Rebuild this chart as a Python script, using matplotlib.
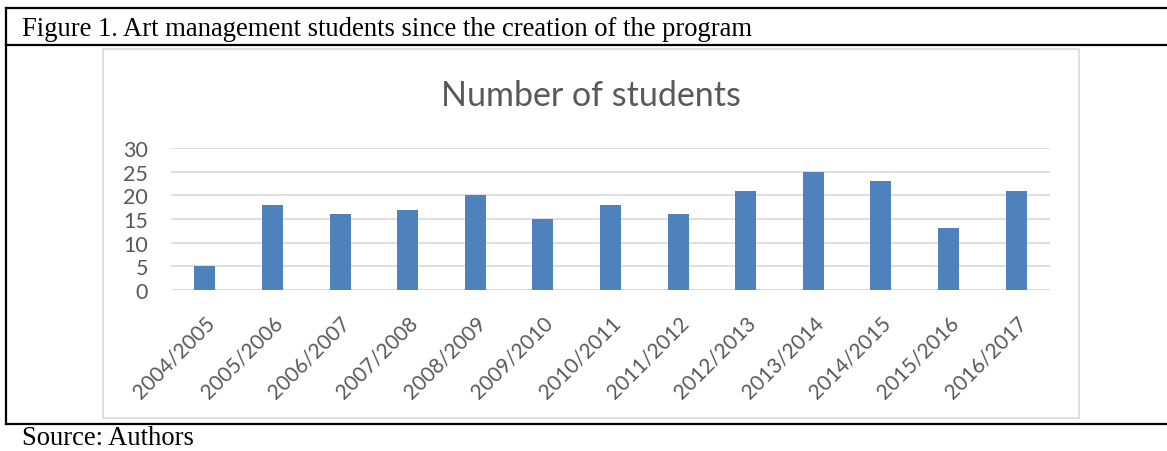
import matplotlib
matplotlib.use("Agg")
import matplotlib.pyplot as plt
from matplotlib.lines import Line2D
from matplotlib.patches import Rectangle

years = ["2004/2005", "2005/2006", "2006/2007", "2007/2008", "2008/2009", "2009/2010",
         "2010/2011", "2011/2012", "2012/2013", "2013/2014", "2014/2015", "2015/2016", "2016/2017"]
students = [5, 18, 16, 17, 20, 15, 18, 16, 21, 25, 23, 13, 21]
yticks = [0, 5, 10, 15, 20, 25, 30]

W, H = 1167, 452
fig = plt.figure(figsize=(W / 100, H / 100), dpi=100)

def fx(x): return x / W
def fy(y): return 1 - y / H

# outer table lines
lw_table = 1.6
for (x0, y0, x1, y1) in [(6, 9, W, 9), (6, 46, W, 46), (6, 425, W, 425), (6, 9, 6, 425)]:
    fig.add_artist(Line2D([fx(x0), fx(x1)], [fy(y0), fy(y1)], color="black", lw=lw_table,
                          transform=fig.transFigure))

fig.text(fx(22), fy(29), "Figure 1. Art management students since the creation of the program",
         family="Liberation Serif", fontsize=19.2, va="center", ha="left", color="black")
fig.text(fx(22), fy(451), "Source: Authors", family="Liberation Serif", fontsize=19.2,
         va="bottom", ha="left", color="black")

# chart area border
fig.add_artist(Rectangle((fx(103), fy(419)), fx(1079) - fx(103), fy(50) - fy(419),
                         transform=fig.transFigure, fill=False, edgecolor="#D9D9D9", lw=1.2))

fig.text(fx(591), fy(96), "Number of students", family="Lato", fontsize=24.5,
         ha="center", va="center", color="#595959")

ax = fig.add_axes([fx(171), fy(291), fx(1050) - fx(171), fy(149) - fy(291)])
x = list(range(len(years)))
ax.bar(x, students, width=0.31, color="#4F81BD", zorder=3)
ax.set_xlim(-0.5, len(years) - 0.5)
ax.set_ylim(0, 30)
ax.set_yticks(yticks)
ax.set_yticklabels([str(v) for v in yticks], family="Lato", fontsize=15.5, color="#595959")
ax.set_xticks(x)
ax.set_xticklabels(years, rotation=45, ha="right", rotation_mode="anchor",
                   family="Lato", fontsize=15, color="#595959")
ax.tick_params(axis="both", length=0)
ax.tick_params(axis="y", pad=16.5)
ax.tick_params(axis="x", pad=16)
ax.grid(axis="y", color="#D9D9D9", lw=1.2, zorder=0)
for s in ax.spines.values():
    s.set_visible(False)
ax.axhline(0, color="#D9D9D9", lw=1.2, zorder=2)

fig.savefig("out.png", dpi=100)
